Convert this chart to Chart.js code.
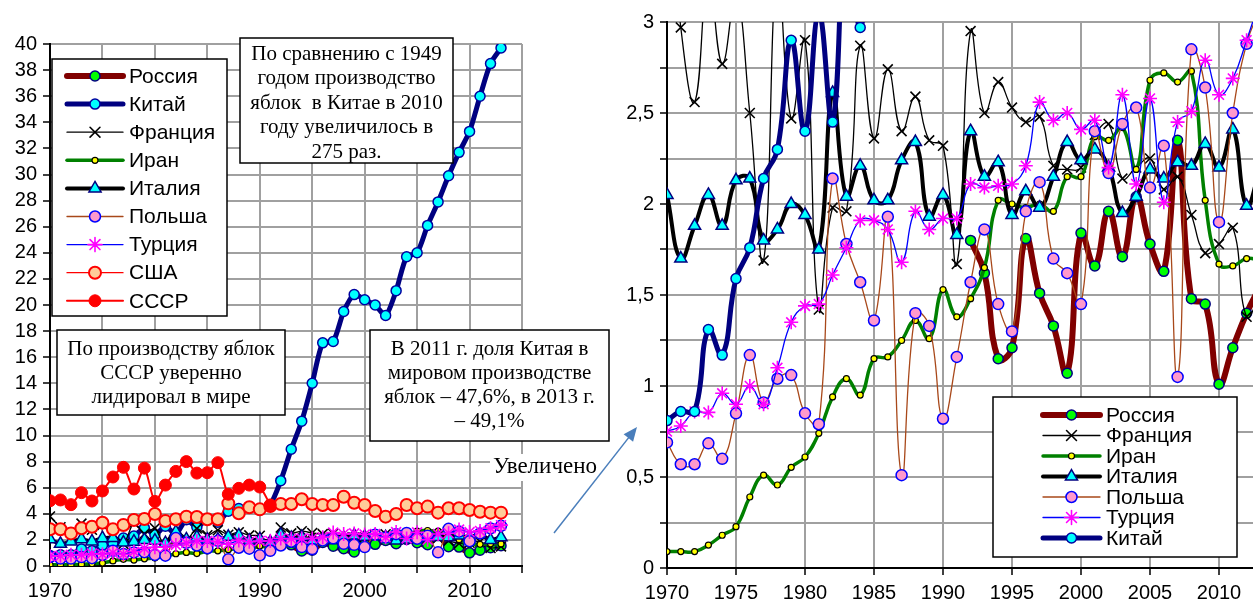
<!DOCTYPE html>
<html>
<head>
<meta charset="utf-8">
<script src="https://cdn.jsdelivr.net/npm/chart.js@4.4.1/dist/chart.umd.min.js"></script>
<style>
  html, body { margin: 0; padding: 0; background: #fff; overflow: hidden; width: 1253px; height: 605px; }
  #left { position: absolute; left: 0; top: 0; }
  #right { position: absolute; left: 600px; top: 0; }
</style>
</head>
<body>
<canvas id="left" width="645" height="605"></canvas>
<canvas id="right" width="700" height="605"></canvas>
<script>
// Apple production, million tonnes, 1970-2013
const years = [1970, 1971, 1972, 1973, 1974, 1975, 1976, 1977, 1978, 1979,
               1980, 1981, 1982, 1983, 1984, 1985, 1986, 1987, 1988, 1989,
               1990, 1991, 1992, 1993, 1994, 1995, 1996, 1997, 1998, 1999,
               2000, 2001, 2002, 2003, 2004, 2005, 2006, 2007, 2008, 2009,
               2010, 2011, 2012, 2013];

const russia = [null, null, null, null, null, null, null, null, null, null,
                null, null, null, null, null, null, null, null, null, null,
                null, null, 1.80, 1.62, 1.15, 1.21, 1.81, 1.51, 1.33, 1.07,
                1.84, 1.66, 1.96, 1.71, 2.04, 1.78, 1.63, 2.35, 1.48, 1.45,
                1.01, 1.21, 1.40, 1.55];
const china = [0.81, 0.86, 0.86, 1.31, 1.17, 1.59, 1.76, 2.14, 2.30, 2.90,
               2.40, 3.05, 2.45, 3.55, 2.97, 3.6, 3.35, 4.2, 4.4, 4.5,
               4.3, 4.7, 6.54, 8.95, 11.1, 14.0, 17.1, 17.2, 19.5, 20.8,
               20.4, 20.0, 19.2, 21.1, 23.7, 24.0, 26.1, 27.9, 29.9, 31.7,
               33.3, 36.0, 38.5, 39.7];
const france = [3.8, 2.97, 2.56, 3.25, 2.77, 3.15, 2.50, 1.69, 3.3, 2.47,
                2.90, 1.42, 1.98, 1.96, 2.87, 2.36, 2.74, 2.40, 2.59, 2.35,
                2.32, 1.67, 2.95, 2.50, 2.67, 2.53, 2.45, 2.48, 2.21, 2.19,
                2.20, 2.38, 2.44, 2.14, 2.20, 2.25, 2.08, 2.15, 1.94, 1.73,
                1.78, 1.87, 1.38, 1.5];
const iran = [0.09, 0.09, 0.09, 0.126, 0.18, 0.227, 0.39, 0.51, 0.456, 0.553,
              0.61, 0.74, 0.94, 1.04, 0.95, 1.15, 1.16, 1.25, 1.36, 1.26,
              1.53, 1.38, 1.48, 1.65, 2.02, 2.0, 1.98, 2.0, 1.96, 2.15,
              2.15, 2.37, 2.35, 2.42, 2.19, 2.68, 2.72, 2.67, 2.73, 2.02,
              1.67, 1.66, 1.7, 1.69];
const italy = [2.05, 1.70, 1.88, 2.05, 1.88, 2.13, 2.14, 1.80, 1.86, 2.0,
               1.94, 1.75, 2.61, 2.04, 2.21, 2.02, 2.02, 2.24, 2.34, 1.93,
               2.05, 1.83, 2.40, 2.15, 2.23, 1.94, 2.07, 1.98, 2.15, 2.34,
               2.24, 2.30, 2.20, 1.95, 2.04, 2.19, 2.14, 2.23, 2.21, 2.33,
               2.20, 2.41, 1.99, 2.20];
const poland = [0.69, 0.57, 0.57, 0.685, 0.60, 0.85, 1.17, 0.91, 1.04, 1.06,
                0.85, 0.79, 2.14, 1.78, 1.57, 1.36, 1.93, 0.51, 1.40, 1.33,
                0.82, 1.16, 1.57, 1.86, 1.45, 1.30, 1.96, 2.12, 1.70, 1.62,
                1.45, 2.40, 2.17, 2.44, 2.53, 2.09, 2.32, 1.05, 2.85, 2.64,
                1.90, 2.50, 2.88, 3.08];
const turkey = [0.75, 0.78, 0.86, 0.855, 0.96, 0.90, 1.0, 0.90, 1.10, 1.35,
                1.44, 1.45, 1.61, 1.76, 1.91, 1.91, 1.86, 1.68, 1.96, 1.86,
                1.92, 1.92, 2.11, 2.09, 2.10, 2.11, 2.21, 2.56, 2.46, 2.50,
                2.41, 2.46, 2.20, 2.60, 2.11, 2.58, 2.01, 2.45, 2.51, 2.79,
                2.60, 2.69, 2.90, 3.13];
const usa = [2.82, 2.82, 2.5, 2.89, 3.01, 3.32, 2.81, 3.14, 3.52, 3.6,
             3.98, 3.45, 3.58, 3.78, 3.75, 3.58, 3.58, 4.8, 4.04, 4.5,
             4.34, 4.6, 4.75, 4.75, 5.12, 4.75, 4.67, 4.67, 5.31, 4.85,
             4.67, 4.21, 3.78, 3.98, 4.67, 4.42, 4.55, 4.09, 4.42, 4.42,
             4.29, 4.16, 4.09, 4.09];
const ussr = [5.0, 5.06, 4.7, 5.62, 4.98, 5.75, 6.82, 7.56, 5.9, 7.5,
              4.95, 6.2, 7.25, 8.0, 7.12, 7.15, 7.92, 5.5, 5.95, 6.2,
              6.05, 4.68, null, null, null, null, null, null, null, null,
              null, null, null, null, null, null, null, null, null, null,
              null, null, null, null];

const leftNames = ['Россия', 'Китай', 'Франция', 'Иран', 'Италия', 'Польша', 'Турция', 'США', 'СССР'];
const leftSeries = [russia, china, france, iran, italy, poland, turkey, usa, ussr];
const rightNames = ['Россия', 'Франция', 'Иран', 'Италия', 'Польша', 'Турция', 'Китай'];
const rightSeries = [russia, france, iran, italy, poland, turkey, china];

const leftTicksY = [0, 40, 2];
const rightTicksY = [0, 3, 0.25];

// look of each country
const look = {
  'Россия':  { line: '#800000', lw: 6,   ps: 'circle',   r: 5,   bg: '#00ff00', bc: '#000080', bw: 1.5 },
  'Китай':   { line: '#000080', lw: 5,   ps: 'circle',   r: 5,   bg: '#00ffff', bc: '#0000a0', bw: 1.5 },
  'Франция': { line: '#000000', lw: 1.3, ps: 'crossRot', r: 7,   bg: '#000000', bc: '#000000', bw: 1.6 },
  'Иран':    { line: '#008000', lw: 3.5, ps: 'circle',   r: 3,   bg: '#ffff00', bc: '#000000', bw: 1.2 },
  'Италия':  { line: '#000000', lw: 4,   ps: 'triangle', r: 7,   bg: '#00ffff', bc: '#000080', bw: 1.5 },
  'Польша':  { line: '#a8481a', lw: 1.3, ps: 'circle',   r: 5.5, bg: '#ff99cc', bc: '#0000ff', bw: 1.5 },
  'Турция':  { line: '#0000ff', lw: 1.3, ps: 'star',     r: 7,   bg: '#ff00ff', bc: '#ff00ff', bw: 1.6 },
  'США':     { line: '#ff0000', lw: 1.3, ps: 'circle',   r: 6,   bg: '#ffcc99', bc: '#ff0000', bw: 2 },
  'СССР':    { line: '#ff0000', lw: 2,   ps: 'circle',   r: 6,   bg: '#ff0000', bc: '#ff0000', bw: 1 }
};

const SANS = "'Liberation Sans', Arial, sans-serif";
const SERIF = "'Liberation Serif', 'Times New Roman', serif";

function toPoints(vals) {
  return vals.map((v, i) => ({ x: years[i], y: v }));
}

function makeDatasets(names, series, tension) {
  const n = names.length;
  return names.map((name, i) => {
    const st = look[name];
    return {
      label: name,
      data: toPoints(series[i]),
      borderColor: st.line,
      borderWidth: st.lw,
      pointStyle: st.ps,
      pointRadius: st.r,
      pointBackgroundColor: st.bg,
      pointBorderColor: st.bc,
      pointBorderWidth: st.bw,
      tension: tension,
      order: n - 1 - i   // last series on top, like Excel
    };
  });
}

function drawMarker(ctx, st, x, y) {
  const r = st.r;
  ctx.save();
  ctx.lineWidth = st.bw;
  ctx.strokeStyle = st.bc;
  ctx.fillStyle = st.bg;
  ctx.beginPath();
  if (st.ps === 'circle') {
    ctx.arc(x, y, r, 0, Math.PI * 2);
    ctx.fill();
    ctx.stroke();
  } else if (st.ps === 'triangle') {
    let a = 0;
    ctx.moveTo(x + Math.sin(a) * r, y - Math.cos(a) * r);
    a += Math.PI * 2 / 3;
    ctx.lineTo(x + Math.sin(a) * r, y - Math.cos(a) * r);
    a += Math.PI * 2 / 3;
    ctx.lineTo(x + Math.sin(a) * r, y - Math.cos(a) * r);
    ctx.closePath();
    ctx.fill();
    ctx.stroke();
  } else {
    const d = r * Math.SQRT1_2;
    ctx.moveTo(x - d, y - d); ctx.lineTo(x + d, y + d);
    ctx.moveTo(x + d, y - d); ctx.lineTo(x - d, y + d);
    if (st.ps === 'star') {
      ctx.moveTo(x, y - r); ctx.lineTo(x, y + r);
      ctx.moveTo(x - r, y); ctx.lineTo(x + r, y);
    }
    ctx.stroke();
  }
  ctx.restore();
}

function drawLegend(ctx, names, L) {
  ctx.save();
  ctx.fillStyle = '#fff';
  ctx.fillRect(L.x, L.y, L.w, L.h);
  ctx.strokeStyle = '#000';
  ctx.lineWidth = 1.5;
  ctx.strokeRect(L.x, L.y, L.w, L.h);
  ctx.font = L.font + 'px ' + SANS;
  ctx.textBaseline = 'middle';
  ctx.textAlign = 'left';
  names.forEach((name, i) => {
    const st = look[name];
    const y = L.row0 + i * L.gap;
    ctx.beginPath();
    ctx.strokeStyle = st.line;
    ctx.lineWidth = st.lw;
    ctx.lineCap = 'round';
    ctx.moveTo(L.x0, y);
    ctx.lineTo(L.x1, y);
    ctx.stroke();
    drawMarker(ctx, st, (L.x0 + L.x1) / 2, y);
    ctx.fillStyle = '#000';
    ctx.fillText(name, L.tx, y + 1);
  });
  ctx.restore();
}

function textBox(ctx, b, lines) {
  ctx.save();
  ctx.fillStyle = '#fff';
  ctx.fillRect(b.x, b.y, b.w, b.h);
  ctx.strokeStyle = '#000';
  ctx.lineWidth = 1.5;
  ctx.strokeRect(b.x, b.y, b.w, b.h);
  ctx.fillStyle = '#000';
  ctx.font = '21px ' + SERIF;
  ctx.textAlign = 'center';
  ctx.textBaseline = 'middle';
  lines.forEach((t, i) => ctx.fillText(t, b.x + b.w / 2, b.line0 + i * b.gap));
  ctx.restore();
}

const leftOverlay = {
  id: 'leftOverlay',
  afterDraw(chart) {
    const ctx = chart.ctx;
    drawLegend(ctx, leftNames, { x: 52, y: 59, w: 175, h: 257, row0: 76, gap: 28.1, x0: 67, x1: 123, tx: 129, font: 21 });
    textBox(ctx, { x: 240, y: 38, w: 213, h: 125, line0: 54, gap: 24.6 },
      ['По сравнению с 1949', 'годом производство', 'яблок  в Китае в 2010', 'году увеличилось в', '275 раз.']);
    textBox(ctx, { x: 57, y: 330, w: 228, h: 85, line0: 349, gap: 24 },
      ['По производству яблок', 'СССР уверенно', 'лидировал в мире']);
    textBox(ctx, { x: 370, y: 330, w: 239, h: 111, line0: 349, gap: 24 },
      ['В 2011 г. доля Китая в', 'мировом производстве', 'яблок – 47,6%, в 2013 г.', '– 49,1%']);
    // "Увеличено" label and arrow to the zoomed chart
    ctx.save();
    ctx.fillStyle = '#fff';
    ctx.fillRect(490, 454, 116, 27);
    ctx.fillStyle = '#000';
    ctx.font = '23px ' + SERIF;
    ctx.textBaseline = 'middle';
    ctx.fillText('Увеличено', 493, 467);
    const x0 = 554, y0 = 533, x1 = 637, y1 = 427;
    const a = Math.atan2(y1 - y0, x1 - x0);
    ctx.strokeStyle = '#4a7ebb';
    ctx.fillStyle = '#4a7ebb';
    ctx.lineWidth = 1.5;
    ctx.beginPath();
    ctx.moveTo(x0, y0);
    ctx.lineTo(x1 - 10 * Math.cos(a), y1 - 10 * Math.sin(a));
    ctx.stroke();
    ctx.beginPath();
    ctx.moveTo(x1, y1);
    ctx.lineTo(x1 - 14 * Math.cos(a) + 6 * Math.sin(a), y1 - 14 * Math.sin(a) - 6 * Math.cos(a));
    ctx.lineTo(x1 - 14 * Math.cos(a) - 6 * Math.sin(a), y1 - 14 * Math.sin(a) + 6 * Math.cos(a));
    ctx.closePath();
    ctx.fill();
    ctx.restore();
  }
};

const rightOverlay = {
  id: 'rightOverlay',
  afterDraw(chart) {
    drawLegend(chart.ctx, rightNames, { x: 393, y: 397, w: 244, h: 160, row0: 415, gap: 20.5, x0: 443, x1: 500, tx: 506, font: 21 });
  }
};

function axisOptions(cfg) {
  const font = { family: SANS, size: 20 };
  return {
    x: {
      type: 'linear', min: 1970, max: 2015,
      border: { color: '#000', width: 2 },
      grid: { color: '#a0a0a0', lineWidth: 2, tickLength: 7, tickColor: '#000', tickWidth: 1.5 },
      ticks: { stepSize: 5, autoSkip: false, maxRotation: 0, padding: 6, color: '#000', font: font, callback: cfg.xLabel },
      afterFit: s => { s.height = cfg.xh; }
    },
    y: {
      min: cfg.yTicks[0], max: cfg.yTicks[1],
      border: { color: '#000', width: 2 },
      grid: { color: '#a0a0a0', lineWidth: 2, tickLength: 7, tickColor: '#000', tickWidth: 1.5 },
      ticks: { stepSize: cfg.yTicks[2], autoSkip: false, padding: 6, color: '#000', font: font, callback: cfg.yLabel },
      afterFit: s => { s.width = cfg.yw; }
    }
  };
}

new Chart(document.getElementById('left'), {
  type: 'line',
  data: { datasets: makeDatasets(leftNames, leftSeries, 0.25) },
  options: {
    responsive: false,
    animation: false,
    layout: { padding: { left: 0, top: 44, right: 123, bottom: 0 } },
    plugins: { legend: { display: false }, tooltip: { enabled: false } },
    scales: axisOptions({
      xh: 39, yw: 50, yTicks: leftTicksY,
      xLabel: v => (v % 10 === 0 ? String(v) : ''),
      yLabel: v => String(v)
    })
  },
  plugins: [leftOverlay]
});

new Chart(document.getElementById('right'), {
  type: 'line',
  data: { datasets: makeDatasets(rightNames, rightSeries, 0.45) },
  options: {
    responsive: false,
    animation: false,
    layout: { padding: { left: 0, top: 22, right: 12, bottom: 0 } },
    elements: { line: { capBezierPoints: false } },
    plugins: { legend: { display: false }, tooltip: { enabled: false } },
    scales: axisOptions({
      xh: 37, yw: 67, yTicks: rightTicksY,
      xLabel: v => (v < 2015 ? String(v) : ''),
      yLabel: v => (Math.abs(v * 2 - Math.round(v * 2)) < 1e-6 ? String(Math.round(v * 2) / 2).replace('.', ',') : '')
    })
  },
  plugins: [rightOverlay]
});
</script>
</body>
</html>
